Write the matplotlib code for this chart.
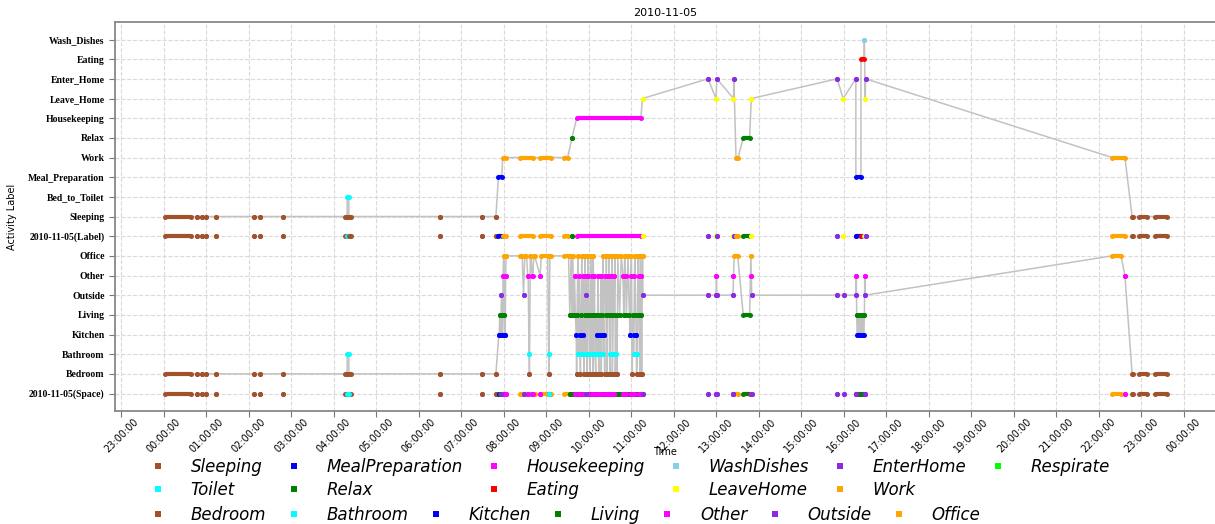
import matplotlib
matplotlib.use('Agg')
import matplotlib.pyplot as plt
from matplotlib.lines import Line2D
from matplotlib.ticker import FuncFormatter

day = '2010-11-05'

# y rows, bottom to top
y_rows = ['2010-11-05(Space)', 'Bedroom', 'Bathroom', 'Kitchen', 'Living', 'Outside', 'Other', 'Office',
          '2010-11-05(Label)', 'Sleeping', 'Bed_to_Toilet', 'Meal_Preparation', 'Work', 'Relax',
          'Housekeeping', 'Leave_Home', 'Enter_Home', 'Eating', 'Wash_Dishes']

activity_colors = {'Sleeping': 'sienna', 'Bed_to_Toilet': 'cyan', 'Meal_Preparation': 'blue',
                   'Work': 'orange', 'Relax': 'green', 'Housekeeping': 'magenta',
                   'Leave_Home': 'yellow', 'Enter_Home': 'blueviolet', 'Eating': 'red',
                   'Wash_Dishes': 'skyblue'}
space_colors = {'Bedroom': 'sienna', 'Bathroom': 'cyan', 'Kitchen': 'blue', 'Living': 'green',
                'Outside': 'blueviolet', 'Other': 'magenta', 'Office': 'orange'}

activity_legend = ['Sleeping', 'Toilet', 'MealPreparation', 'Relax', 'Housekeeping', 'Eating',
                   'WashDishes', 'LeaveHome', 'EnterHome', 'Work', 'Respirate']
activity_legend_colors = ['sienna', 'cyan', 'blue', 'green', 'magenta', 'red',
                          'skyblue', 'yellow', 'blueviolet', 'orange', 'lime']
space_legend = ['Bedroom', 'Bathroom', 'Kitchen', 'Living', 'Other', 'Outside', 'Office']
space_draw_order = ['Office', 'Bedroom', 'Bathroom', 'Kitchen', 'Living', 'Other', 'Outside']

# hours after midnight: (time, label) or (start, end, label)
activity_log = [
    (0.02, 0.64, 'Sleeping'), (0.77, 'Sleeping'), (0.89, 'Sleeping'), (1.00, 'Sleeping'),
    (1.23, 'Sleeping'), (2.13, 'Sleeping'), (2.25, 'Sleeping'), (2.80, 'Sleeping'),
    (4.27, 4.31, 'Sleeping'), (4.31, 4.35, 'Bed_to_Toilet'), (4.35, 4.39, 'Sleeping'),
    (6.49, 'Sleeping'), (7.48, 'Sleeping'), (7.81, 'Sleeping'),
    (7.87, 7.95, 'Meal_Preparation'), (7.97, 8.04, 'Work'), (8.37, 8.68, 'Work'),
    (8.84, 9.10, 'Work'), (9.42, 9.50, 'Work'), (9.60, 'Relax'), (9.71, 11.22, 'Housekeeping'),
    (11.26, 'Leave_Home'), (12.80, 'Enter_Home'), (12.99, 'Leave_Home'), (13.01, 'Enter_Home'),
    (13.40, 'Leave_Home'), (13.41, 'Enter_Home'), (13.46, 13.51, 'Work'), (13.63, 13.78, 'Relax'),
    (13.82, 'Leave_Home'), (15.84, 'Enter_Home'), (15.98, 'Leave_Home'), (16.28, 'Enter_Home'),
    (16.28, 16.40, 'Meal_Preparation'), (16.40, 16.47, 'Eating'), (16.48, 'Wash_Dishes'),
    (16.50, 'Leave_Home'), (16.51, 'Enter_Home'), (22.31, 22.61, 'Work'),
    (22.78, 22.80, 'Sleeping'), (22.95, 23.14, 'Sleeping'), (23.31, 23.61, 'Sleeping'),
]

space_log = [
    (0.02, 0.64, 'Bedroom'), (0.77, 'Bedroom'), (0.89, 'Bedroom'), (1.00, 'Bedroom'),
    (1.23, 'Bedroom'), (2.13, 'Bedroom'), (2.25, 'Bedroom'), (2.80, 'Bedroom'),
    (4.27, 4.31, 'Bedroom'), (4.31, 4.35, 'Bathroom'), (4.35, 4.39, 'Bedroom'),
    (6.49, 'Bedroom'), (7.48, 'Bedroom'), (7.81, 'Bedroom'),
    (7.88, 7.89, 'Kitchen'), (7.90, 'Living'), (7.92, 'Kitchen'), (7.94, 'Outside'),
    (7.95, 'Living'), (7.96, 7.97, 'Kitchen'), (7.98, 'Other'), (7.99, 8.00, 'Office'),
    (8.01, 'Living'), (8.02, 8.03, 'Kitchen'), (8.04, 'Other'), (8.05, 8.06, 'Office'),
    (8.37, 8.43, 'Office'), (8.46, 'Outside'), (8.49, 8.53, 'Office'), (8.56, 8.57, 'Other'),
    (8.59, 'Bathroom'), (8.60, 'Bedroom'), (8.62, 8.64, 'Office'), (8.66, 8.68, 'Other'),
    (8.70, 8.72, 'Office'), (8.85, 'Other'), (8.88, 9.03, 'Office'), (9.05, 'Bathroom'),
    (9.06, 'Bedroom'), (9.08, 9.10, 'Office'),
    (9.42, 9.52, 'Office'), (9.55, 'Living'), (9.58, 'Office'), (9.60, 'Living'),
    (9.62, 'Office'), (9.64, 'Living'), (9.66, 'Other'), (9.68, 'Living'), (9.70, 'Kitchen'),
    (9.71, 'Bedroom'), (9.72, 'Living'), (9.74, 'Office'), (9.75, 'Bathroom'), (9.77, 'Other'),
    (9.78, 'Kitchen'), (9.80, 'Bedroom'), (9.81, 'Living'), (9.83, 'Office'), (9.84, 'Bathroom'),
    (9.86, 'Other'), (9.87, 'Kitchen'), (9.88, 'Bedroom'), (9.90, 'Living'), (9.91, 'Office'),
    (9.92, 'Bathroom'), (9.93, 'Other'), (9.94, 'Outside'), (9.95, 'Living'), (9.96, 'Bedroom'),
    (9.97, 'Other'), (9.98, 'Office'), (10.00, 'Living'), (10.01, 'Bathroom'), (10.03, 'Bedroom'),
    (10.04, 'Office'), (10.06, 'Living'), (10.07, 'Bathroom'), (10.08, 'Other'),
    (10.09, 'Bedroom'), (10.10, 'Office'), (10.12, 'Living'), (10.13, 'Other'),
    (10.14, 'Bathroom'), (10.16, 'Bedroom'), (10.17, 'Living'), (10.19, 'Bathroom'),
    (10.20, 'Kitchen'), (10.21, 'Other'), (10.23, 'Bedroom'), (10.24, 'Living'),
    (10.25, 'Kitchen'), (10.26, 'Bathroom'), (10.28, 'Other'), (10.29, 'Bedroom'),
    (10.30, 'Kitchen'), (10.31, 'Living'), (10.33, 'Office'), (10.34, 'Bathroom'),
    (10.36, 'Kitchen'), (10.37, 'Bedroom'), (10.38, 'Other'), (10.40, 'Living'),
    (10.41, 'Office'), (10.43, 'Bedroom'), (10.44, 'Other'), (10.46, 'Living'),
    (10.47, 'Office'), (10.49, 'Bedroom'), (10.50, 'Bathroom'), (10.51, 'Other'),
    (10.53, 'Living'), (10.54, 'Office'), (10.55, 'Bedroom'), (10.56, 'Bathroom'),
    (10.58, 'Other'), (10.59, 'Living'), (10.61, 'Office'), (10.62, 'Bedroom'),
    (10.63, 'Bathroom'), (10.65, 'Living'), (10.66, 'Bedroom'), (10.68, 'Office'),
    (10.72, 'Living'), (10.76, 'Office'), (10.80, 'Other'), (10.82, 'Living'), (10.84, 'Office'),
    (10.86, 'Other'), (10.88, 'Living'), (10.92, 'Office'), (10.95, 'Living'), (10.97, 'Kitchen'),
    (10.98, 'Other'), (11.00, 'Office'), (11.02, 'Bedroom'), (11.03, 'Living'),
    (11.05, 'Bathroom'), (11.06, 'Kitchen'), (11.07, 'Other'), (11.08, 'Office'),
    (11.10, 'Living'), (11.11, 'Kitchen'), (11.12, 'Bedroom'), (11.14, 'Bathroom'),
    (11.15, 'Office'), (11.17, 'Other'), (11.18, 'Living'), (11.20, 'Bedroom'), (11.21, 'Office'),
    (11.22, 'Other'), (11.23, 'Living'), (11.24, 'Bedroom'), (11.26, 'Office'), (11.27, 'Outside'),
    (12.80, 'Outside'), (12.99, 'Outside'), (13.00, 'Other'), (13.01, 'Outside'),
    (13.39, 'Outside'), (13.40, 'Other'), (13.42, 13.50, 'Office'), (13.63, 13.78, 'Living'),
    (13.81, 'Office'), (13.82, 'Other'), (13.83, 'Outside'),
    (15.84, 'Outside'), (15.99, 'Outside'), (16.28, 'Outside'), (16.29, 'Other'),
    (16.30, 'Living'), (16.31, 16.33, 'Kitchen'), (16.34, 'Living'), (16.35, 16.37, 'Kitchen'),
    (16.38, 'Living'), (16.39, 16.41, 'Kitchen'), (16.42, 16.44, 'Living'),
    (16.45, 16.47, 'Kitchen'), (16.48, 'Living'), (16.49, 'Other'), (16.50, 'Outside'),
    (22.31, 22.52, 'Office'), (22.61, 'Other'),
    (22.78, 22.80, 'Bedroom'), (22.95, 23.14, 'Bedroom'), (23.31, 23.61, 'Bedroom'),
]

hour_ticks = list(range(-1, 25))


def unpack(ev):
    if len(ev) == 2:
        return ev[0], ev[0], ev[1]
    return ev


def mark(ax, t0, t1, y, color):
    # dots at both ends plus a bar of the same thickness in between
    ax.plot([t0, t1], [y, y], color=color, lw=3.0, solid_capstyle='butt',
            marker='o', ms=3.6, mew=0, zorder=3)


def draw_log(ax, log, colors, summary_row, order=None):
    xs, ys = [], []
    for ev in log:
        t0, t1, name = unpack(ev)
        y = y_rows.index(name)
        xs += [t0, t1]
        ys += [y, y]
    ax.plot(xs, ys, color='#c2c2c2', lw=1.1, zorder=2)
    for ev in log:
        t0, t1, name = unpack(ev)
        mark(ax, t0, t1, y_rows.index(name), colors[name])
    row_events = [unpack(ev) for ev in log]
    if order is not None:
        row_events = sorted(row_events, key=lambda e: order.index(e[2]))
    ys0 = y_rows.index(summary_row)
    for t0, t1, name in row_events:
        mark(ax, t0, t1, ys0, colors[name])


fig = plt.figure(figsize=(12.15, 5.24), dpi=100)
ax = fig.add_axes([0.0947, 0.2156, 0.9053, 0.7424])

draw_log(ax, activity_log, activity_colors, '2010-11-05(Label)')
draw_log(ax, space_log, space_colors, '2010-11-05(Space)', order=space_draw_order)

ax.set_xlim(-1.15, 24.73)
ax.set_ylim(-0.89, 18.89)
ax.set_yticks(range(len(y_rows)))
ax.set_yticklabels(y_rows, fontfamily='Liberation Serif', fontweight='bold', fontsize=7)
ax.set_xticks(hour_ticks)
ax.xaxis.set_major_formatter(FuncFormatter(lambda v, p: '%02d:00:00' % (int(round(v)) % 24)))
plt.setp(ax.get_xticklabels(), rotation=45, fontsize=7)
ax.tick_params(axis='both', length=4, color='#777777')
ax.tick_params(axis='x', pad=0)
ax.grid(True, ls='--', color='#dadada', lw=0.8)
ax.set_axisbelow(True)
for side in ['left', 'top', 'bottom']:
    ax.spines[side].set_color('#888888')
    ax.spines[side].set_linewidth(1.3)
ax.spines['right'].set_visible(False)

ax.set_title(day, fontsize=8, pad=4)
ax.set_xlabel('Time', fontsize=7)
ax.xaxis.set_label_coords(0.5, -0.093)
ax.set_ylabel('Activity Label', fontsize=7)
ax.yaxis.set_label_coords(-0.089, 0.5)

leg_font = {'style': 'italic', 'size': 12}
h1 = [Line2D([], [], ls='none', marker='s', ms=4.5, mew=0, color=c) for c in activity_legend_colors]
fig.legend(h1, activity_legend, ncol=6, loc='upper left', bbox_to_anchor=(0.111, 0.154),
           frameon=False, prop=leg_font, handlelength=1.0, handletextpad=1.45,
           columnspacing=1.38, labelspacing=0.3)
h2 = [Line2D([], [], ls='none', marker='s', ms=4.5, mew=0, color=space_colors[n]) for n in space_legend]
fig.legend(h2, space_legend, ncol=7, loc='upper left', bbox_to_anchor=(0.111, 0.063),
           frameon=False, prop=leg_font, handlelength=1.0, handletextpad=1.45,
           columnspacing=1.15)

fig.savefig('out.png', dpi=100)
